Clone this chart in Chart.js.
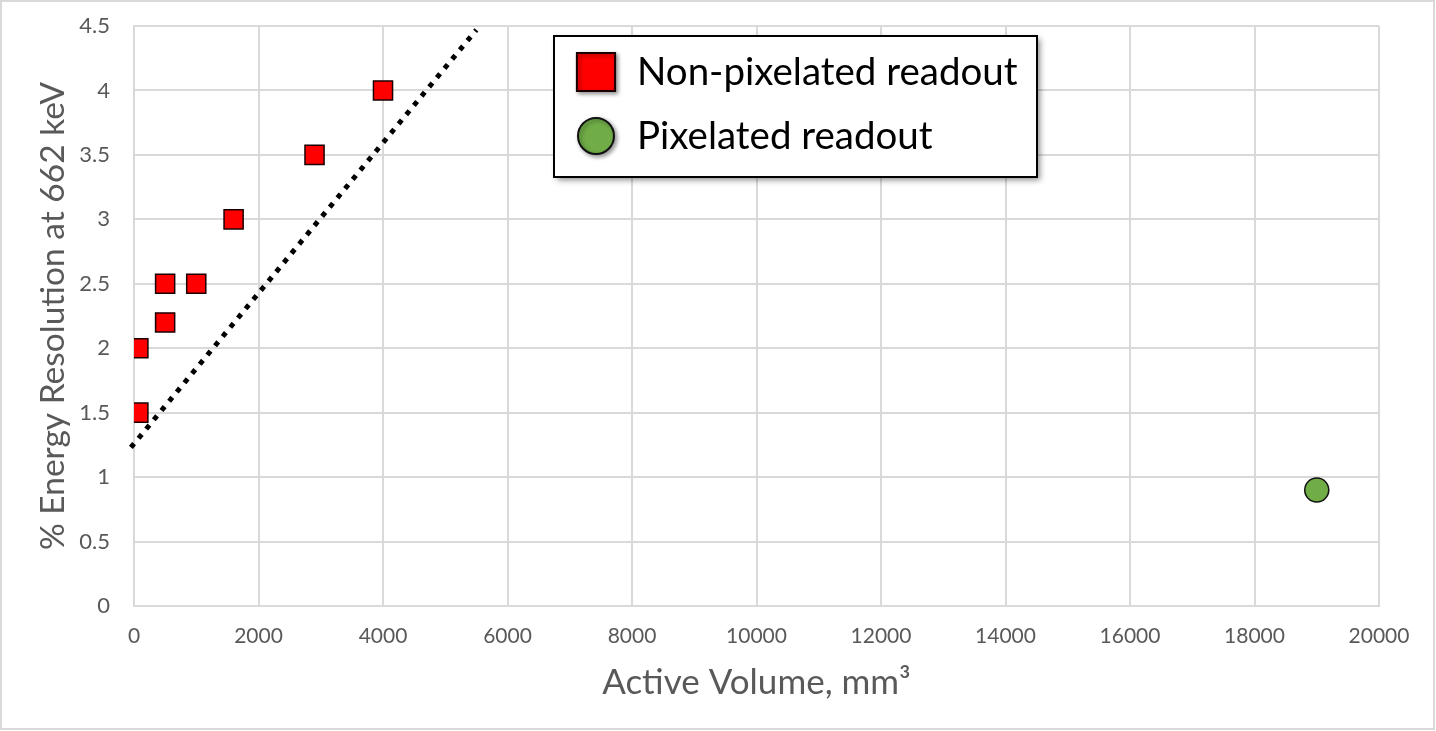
<!DOCTYPE html>
<html>
<head>
<meta charset="utf-8">
<script src="https://cdn.jsdelivr.net/npm/chart.js@4.4.1/dist/chart.umd.min.js"></script>
<style>
  html, body { margin: 0; padding: 0; background: #fff; }
  #wrap { width: 1436px; height: 731px; }
</style>
</head>
<body>
<div id="wrap"><canvas id="chart" width="1436" height="731"></canvas></div>
<script>
// data
const squareX = [70, 70, 500, 500, 1000, 1600, 2900, 4000];
const squareY = [1.5, 2.0, 2.2, 2.5, 2.5, 3.0, 3.5, 4.0];
const circleX = [19000];
const circleY = [0.9];
const trendX = [-50, 5500];
const trendY = [1.23, 4.47];

const seriesNames = ["Non-pixelated readout", "Pixelated readout"];
const xTitle = "Active Volume, mm\u00B3";
const yTitle = "% Energy Resolution at 662 keV";

const toPoints = (xs, ys) => xs.map((x, i) => ({ x, y: ys[i] }));

const FONT = "Lato, 'Open Sans', sans-serif";
const GRID = "#d9d9d9";
const LABEL = "#595959";

/* ---------- outer frame + legend box ---------- */
const frame = {
  id: "frame",
  beforeDraw(chart) {
    const ctx = chart.ctx;
    ctx.save();
    ctx.fillStyle = "#fff";
    ctx.fillRect(0, 0, chart.width, chart.height);
    ctx.strokeStyle = GRID;
    ctx.lineWidth = 2;
    ctx.strokeRect(1, 1, chart.width - 3, chart.height - 3);
    ctx.restore();
  },
  afterDraw(chart) {
    const ctx = chart.ctx;
    const bx = 554, by = 36, bw = 483, bh = 141;
    ctx.save();
    ctx.shadowColor = "rgba(0,0,0,0.45)";
    ctx.shadowBlur = 6;
    ctx.shadowOffsetX = 3;
    ctx.shadowOffsetY = 3;
    ctx.fillStyle = "#fff";
    ctx.fillRect(bx, by, bw, bh);
    ctx.restore();

    ctx.save();
    ctx.strokeStyle = "#000";
    ctx.lineWidth = 2;
    ctx.strokeRect(bx, by, bw, bh);

    const rows = [
      { ds: chart.data.datasets[0], y: 72, r: 27 },
      { ds: chart.data.datasets[1], y: 136, r: 18 }
    ];
    rows.forEach(row => {
      ctx.save();
      ctx.shadowColor = "rgba(0,0,0,0.4)";
      ctx.shadowBlur = 4;
      ctx.shadowOffsetX = 2;
      ctx.shadowOffsetY = 2;
      ctx.fillStyle = row.ds.backgroundColor;
      ctx.strokeStyle = row.ds.borderColor;
      ctx.lineWidth = 2;
      Chart.helpers.drawPoint(ctx, { pointStyle: row.ds.pointStyle, radius: row.r, borderWidth: 2 }, 596, row.y);
      ctx.restore();
      ctx.fillStyle = "#000";
      ctx.font = "38.5px " + FONT;
      ctx.textBaseline = "alphabetic";
      ctx.textAlign = "left";
      ctx.fillText(row.ds.label, 637, row.y + 13);
    });
    ctx.restore();
  }
};

const ctx = document.getElementById("chart").getContext("2d");
new Chart(ctx, {
  type: "scatter",
  data: {
    datasets: [
      {
        label: seriesNames[0],
        data: toPoints(squareX, squareY),
        pointStyle: "rect",
        pointRadius: 13.5,
        backgroundColor: "#ff0000",
        borderColor: "#1a0000",
        borderWidth: 1.5,
        order: 1
      },
      {
        label: seriesNames[1],
        data: toPoints(circleX, circleY),
        pointStyle: "circle",
        pointRadius: 12,
        backgroundColor: "#70ad47",
        borderColor: "#111",
        borderWidth: 1.5,
        order: 1
      },
      {
        type: "line",
        label: "trend",
        data: toPoints(trendX, trendY),
        showLine: true,
        borderColor: "#000",
        borderWidth: 5,
        borderDash: [5, 7],
        borderCapStyle: "butt",
        pointRadius: 0,
        fill: false,
        clip: false,
        order: 2
      }
    ]
  },
  options: {
    responsive: false,
    animation: false,
    layout: { padding: { left: 0, top: 26, right: 57, bottom: 0 } },
    plugins: {
      legend: { display: false },
      tooltip: { enabled: false }
    },
    scales: {
      x: {
        type: "linear",
        min: 0,
        max: 20000,
        afterFit: s => { s.height = 125; },
        grid: { color: GRID, lineWidth: 2, drawTicks: false },
        border: { color: GRID, width: 2 },
        ticks: {
          stepSize: 2000,
          padding: 18,
          color: LABEL,
          font: { family: FONT, size: 21 },
          callback: v => String(v)
        },
        title: {
          display: true,
          text: xTitle,
          color: LABEL,
          font: { family: FONT, size: 35 },
          padding: { top: 0, bottom: 27 }
        }
      },
      y: {
        min: 0,
        max: 4.5,
        afterFit: s => {
          s.width = 134;
          s.paddingTop = 12;
          s.paddingBottom = 12;
        },
        grid: { color: GRID, lineWidth: 2, drawTicks: false },
        border: { color: GRID, width: 2 },
        ticks: {
          stepSize: 0.5,
          padding: 24,
          color: LABEL,
          font: { family: FONT, size: 22 },
          callback: v => String(v)
        },
        title: {
          display: true,
          text: yTitle,
          color: LABEL,
          font: { family: FONT, size: 33.5 },
          padding: { top: 33, bottom: 0 }
        }
      }
    }
  },
  plugins: [frame]
});
</script>
</body>
</html>
